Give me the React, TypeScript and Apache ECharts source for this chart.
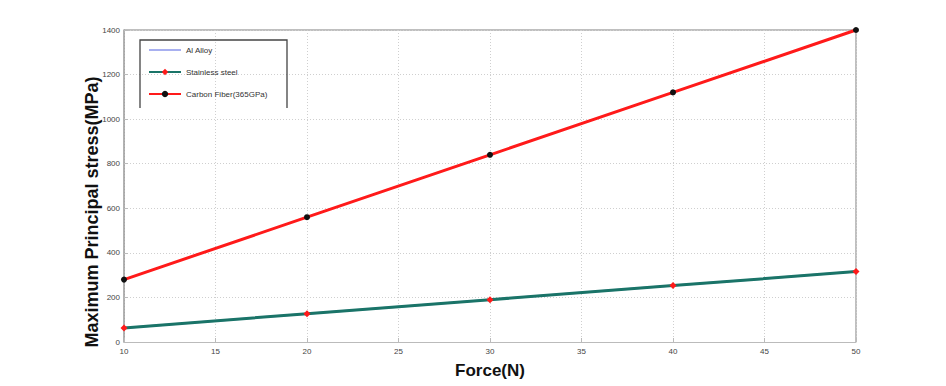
import React, { useEffect, useRef } from "react";
import * as echarts from "echarts";

const forces = [10, 20, 30, 40, 50];
const alAlloy = [63, 127, 190, 253, 316];
const stainless = [63, 127, 190, 253, 316];
const carbon = [280, 560, 840, 1120, 1400];
const seriesNames = ["Al Alloy", "Stainless steel", "Carbon Fiber(365GPa)"];
const xTitle = "Force(N)";
const yTitle = "Maximum Principal stress(MPa)";

const FONT = "Liberation Sans, Arial, sans-serif";

export default function App() {
  const ref = useRef<HTMLDivElement>(null);
  useEffect(() => {
    document.body.style.margin = "0";
    if (!ref.current) return;
    const chart = echarts.init(ref.current, undefined, { renderer: "svg" });
    const pair = (ys: number[]) => forces.map((x, i) => [x, ys[i]]);
    chart.setOption({
      animation: false,
      backgroundColor: "#ffffff",
      grid: { left: 124, right: 90, top: 30, bottom: 44 },
      xAxis: {
        type: "value",
        min: 10,
        max: 50,
        interval: 5,
        name: xTitle,
        nameLocation: "middle",
        nameGap: 20,
        nameTextStyle: { fontFamily: FONT, fontWeight: "bold", fontSize: 17, color: "#111" },
        axisLine: { show: true, lineStyle: { color: "#bbb", width: 1 } },
        axisTick: { show: true, inside: true, length: 4, lineStyle: { color: "#bbb" } },
        axisLabel: { fontFamily: FONT, fontSize: 8, color: "#444", margin: 5 },
        splitLine: { show: true, lineStyle: { color: "#cfcfcf", type: [1, 2], width: 1 } },
      },
      yAxis: {
        type: "value",
        min: 0,
        max: 1400,
        interval: 200,
        axisLine: { show: true, lineStyle: { color: "#999", width: 1.5 } },
        axisTick: { show: true, inside: true, length: 4, lineStyle: { color: "#bbb" } },
        axisLabel: {
          fontFamily: FONT,
          fontSize: 8,
          color: "#444",
          margin: 4,
          formatter: (v: number) => String(v),
        },
        splitLine: { show: true, lineStyle: { color: "#cfcfcf", type: [1, 2], width: 1 } },
      },
      legend: {
        orient: "vertical",
        left: 143,
        top: 41,
        itemGap: 14,
        itemWidth: 32,
        itemHeight: 8,
        textStyle: { fontFamily: FONT, fontSize: 8, color: "#333" },
        data: [
          { name: seriesNames[0], itemStyle: { opacity: 0 } },
          { name: seriesNames[1] },
          { name: seriesNames[2] },
        ],
      },
      graphic: [
        {
          type: "polyline",
          shape: { points: [[124, 30], [856, 30], [856, 342]] },
          style: { stroke: "#aaa", lineWidth: 1.5, fill: "none" },
          silent: true,
        },
        {
          type: "polyline",
          shape: { points: [[140, 108], [140, 40], [287, 40], [287, 108]] },
          style: { stroke: "#444", lineWidth: 1.3, fill: "none" },
          silent: true,
          z: 10,
        },
        {
          type: "text",
          x: 92,
          y: 212,
          rotation: Math.PI / 2,
          style: {
            text: yTitle,
            fontFamily: FONT,
            fontWeight: "bold",
            fontSize: 18,
            fill: "#111",
            align: "center",
            verticalAlign: "middle",
          },
          silent: true,
        },
      ],
      series: [
        {
          name: seriesNames[0],
          type: "line",
          data: pair(alAlloy),
          symbol: "none",
          lineStyle: { color: "#a8b0f0", width: 2 },
          itemStyle: { color: "#a8b0f0" },
          z: 1,
        },
        {
          name: seriesNames[1],
          type: "line",
          data: pair(stainless),
          symbol: "diamond",
          symbolSize: 7,
          lineStyle: { color: "#1a7468", width: 3 },
          itemStyle: { color: "#ff1a1a" },
          z: 2,
        },
        {
          name: seriesNames[2],
          type: "line",
          data: pair(carbon),
          symbol: "circle",
          symbolSize: 6,
          lineStyle: { color: "#ff1a1a", width: 3 },
          itemStyle: { color: "#111" },
          z: 3,
        },
      ],
    });
    return () => chart.dispose();
  }, []);
  return <div ref={ref} style={{ width: 946, height: 386 }} />;
}
